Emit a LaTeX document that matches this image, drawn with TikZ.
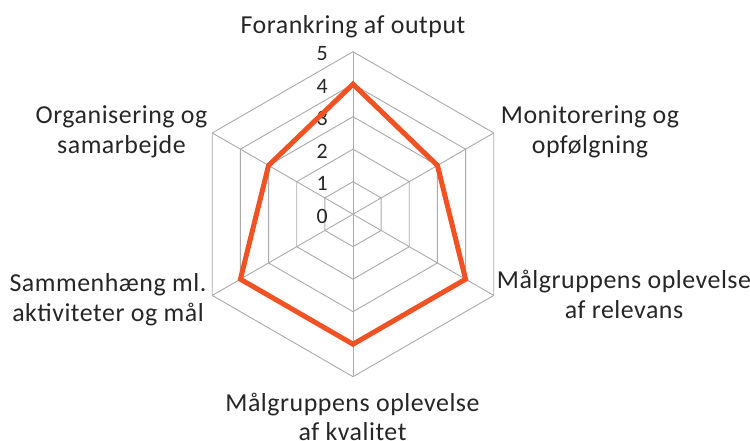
\documentclass[tikz,border=0pt]{standalone}
\usepackage{fontspec}
\setmainfont{Carlito}
\newfontfamily\lblfont[LetterSpace=2]{Carlito}
\usetikzlibrary{calc}
\definecolor{seriescol}{RGB}{240,82,35}
\definecolor{gridcol}{RGB}{170,170,170}
\begin{document}
\begin{tikzpicture}[x=1bp,y=1bp,
  grid/.style={draw=gridcol, line width=0.9bp},
  series/.style={draw=seriescol, line width=5bp, line join=miter},
  axlabel/.style={font=\lblfont\fontsize{26}{30}\selectfont, align=center, inner sep=0pt, text=black!85, anchor=base},
  ticklabel/.style={font=\fontsize{22}{26}\selectfont, anchor=east, inner sep=0pt, text=black!85}]
\useasboundingbox (0,0) rectangle (750,441);
\coordinate (O) at (353,226.8);
% grid rings
\foreach \r in {1,...,5}{
  \draw[grid, shift={(O)}] (90:\r*32.5) -- (30:\r*32.5) -- (-30:\r*32.5) -- (-90:\r*32.5) -- (210:\r*32.5) -- (150:\r*32.5) -- cycle;
}
% spokes
\foreach \a in {90,30,-30,-90,210,150}{
  \coordinate (S\a) at ($(O)+(\a:162.5)$);
  \draw[grid] (O) -- (S\a);
}
% tick labels
\foreach \k in {0,...,5}{
  \node[ticklabel] (t\k) at ($(O)+(-25,\k*32.5-2)$) {\k};
}
% data points
\coordinate (P1) at ($(O)+(90:4*32.5)$);
\coordinate (P2) at ($(O)+(30:3*32.5)$);
\coordinate (P3) at ($(O)+(-30:4*32.5)$);
\coordinate (P4) at ($(O)+(-90:4*32.5)$);
\coordinate (P5) at ($(O)+(210:4*32.5)$);
\coordinate (P6) at ($(O)+(150:3*32.5)$);
\draw[series] (P1) -- (P2) -- (P3) -- (P4) -- (P5) -- (P6) -- cycle;
% axis labels (base anchor = baseline of last line)
\node[axlabel] (L1) at (353,441-33.3) {Forankring af output};
\node[axlabel] (L2) at (590,441-153.3) {Monitorering og\\opfølgning};
\node[axlabel] (L3) at (624,441-318.3) {Målgruppens oplevelse\\af relevans};
\node[axlabel] (L4) at (352.5,441-441) {Målgruppens oplevelse\\af kvalitet};
\node[axlabel] (L5) at (108,441-321.7) {Sammenhæng ml.\\aktiviteter og mål};
\node[axlabel] (L6) at (121.5,441-153.3) {Organisering og\\samarbejde};
\end{tikzpicture}
\end{document}
